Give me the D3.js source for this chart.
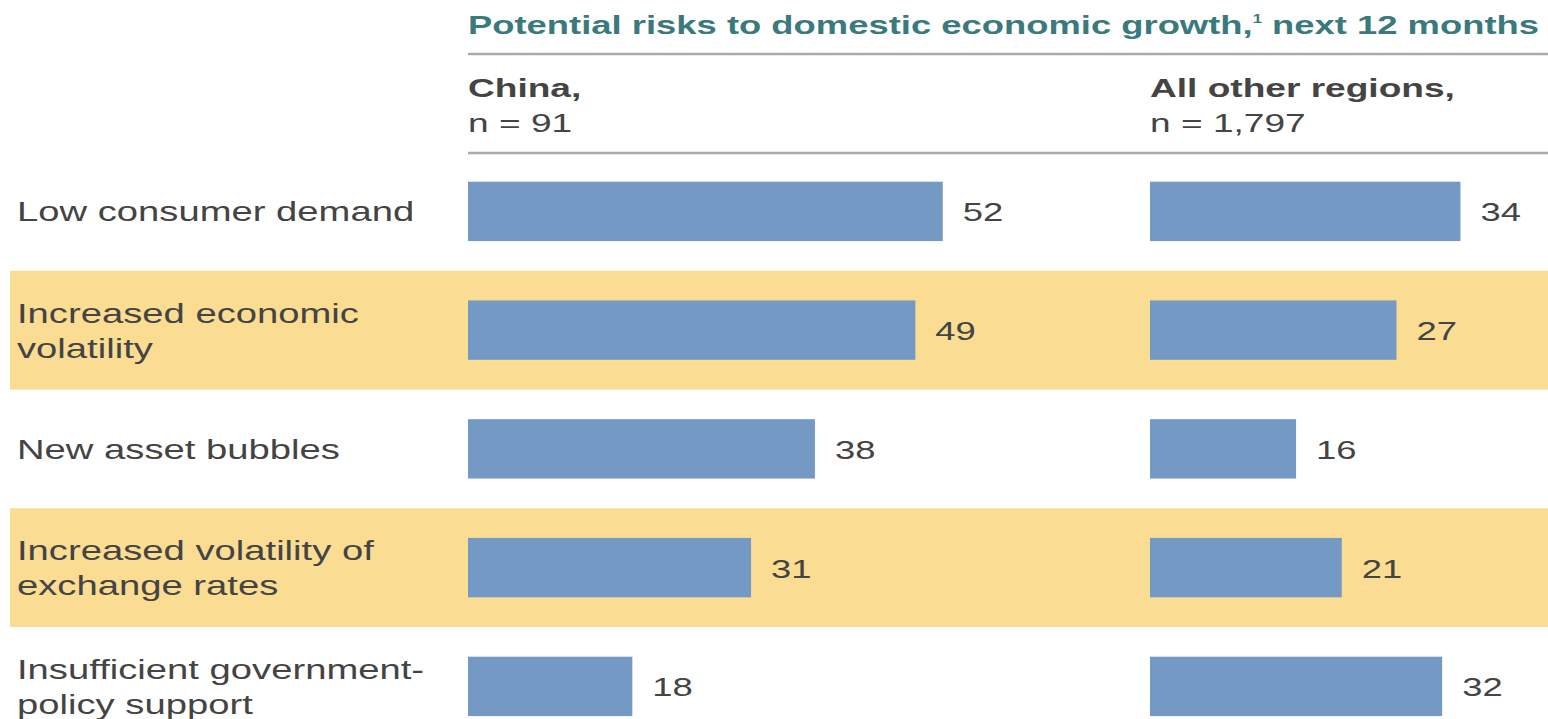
<!DOCTYPE html>
<html>
<head>
<meta charset="utf-8">
<script src="https://cdn.jsdelivr.net/npm/d3@7/dist/d3.min.js"></script>
<style>
  body { margin: 0; background: #fff; }
  svg { display: block; font-family: "Liberation Sans", Arial, Helvetica, sans-serif; }
</style>
</head>
<body>
<svg width="1548" height="719"></svg>
<script>
const categories = [
  "Low consumer demand",
  "Increased economic\nvolatility",
  "New asset bubbles",
  "Increased volatility of\nexchange rates",
  "Insufficient government-\npolicy support"
];
const china = [52, 49, 38, 31, 18];
const others = [34, 27, 16, 21, 32];
const groupNames = ["China,", "All other regions,"];
const groupN = ["n = 91", "n = 1,797"];

const width = 1548;
const SX = 1.4; // source picture is stretched sideways
const textColor = "#444";
const barColor = "#7399c4";
const bandColor = "#fadc92";

const svg = d3.select("svg");

const y = d3.scaleBand().domain(d3.range(categories.length)).range([152, 745.75]);
const xChina = d3.scaleLinear().domain([0, 100]).range([468, 468 + 913]);
const xOther = d3.scaleLinear().domain([0, 100]).range([1150, 1150 + 913]);

// stretched text helper
function stext(g, x, yy, str, size, weight, fill) {
  return g.append("text")
    .attr("transform", `translate(${x},${yy}) scale(${SX},1)`)
    .attr("font-size", size)
    .attr("font-weight", weight)
    .attr("fill", fill)
    .text(str);
}

// yellow bands on every other row
svg.append("g")
  .selectAll("rect")
  .data(d3.range(categories.length).filter((i) => i % 2 === 1))
  .join("rect")
  .attr("x", 10)
  .attr("y", (i) => y(i))
  .attr("width", width - 10)
  .attr("height", y.bandwidth())
  .attr("fill", bandColor);

// title
const title = svg.append("text")
  .attr("transform", `translate(468,34) scale(${SX},1)`)
  .attr("font-size", 26)
  .attr("font-weight", "bold")
  .attr("fill", "#3b7a7c");
title.append("tspan").text("Potential risks to domestic economic growth,");
title.append("tspan").attr("font-size", 12).attr("dy", -11).text("1");
title.append("tspan").attr("dy", 11).text(" next 12 months");

// rules
svg.append("g")
  .selectAll("line")
  .data([54, 153])
  .join("line")
  .attr("x1", 468)
  .attr("x2", width)
  .attr("y1", (d) => d)
  .attr("y2", (d) => d)
  .attr("stroke", "#aaa")
  .attr("stroke-width", 2.5);

// group headers
const heads = svg.append("g");
[xChina, xOther].forEach((sc, i) => {
  stext(heads, sc(0), 97, groupNames[i], 26.5, "bold", textColor);
  stext(heads, sc(0), 132, groupN[i], 26.5, "normal", textColor);
});

// category labels
const lab = svg.append("g");
categories.forEach((c, i) => {
  const lines = c.split("\n");
  const cy = y(i) + y.bandwidth() / 2;
  lines.forEach((ln, j) => {
    const off = (j - (lines.length - 1) / 2) * 35;
    stext(lab, 17, cy + off + 10, ln, 27.3, "normal", textColor);
  });
});

// bars + values
const barH = y.bandwidth() / 2;
[[china, xChina], [others, xOther]].forEach(([vals, sc]) => {
  const g = svg.append("g");
  g.selectAll("rect")
    .data(vals)
    .join("rect")
    .attr("x", sc(0))
    .attr("y", (d, i) => y(i) + (y.bandwidth() - barH) / 2)
    .attr("width", (d) => sc(d) - sc(0))
    .attr("height", barH)
    .attr("fill", barColor);
  vals.forEach((d, i) => {
    stext(g, sc(d) + 20, y(i) + y.bandwidth() / 2 + 10, d, 26, "normal", textColor);
  });
});
</script>
</body>
</html>
